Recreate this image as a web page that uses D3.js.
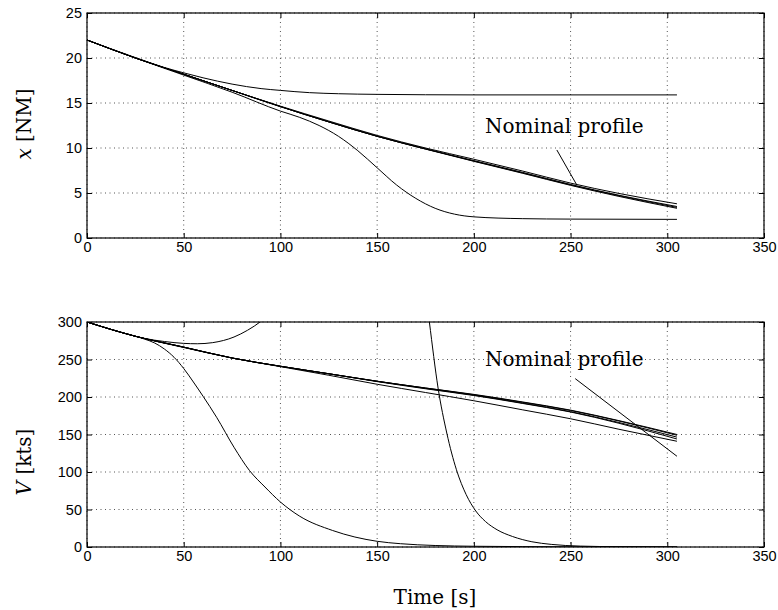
<!DOCTYPE html>
<html>
<head>
<meta charset="utf-8">
<script src="https://cdn.jsdelivr.net/npm/d3@7"></script>
<style>
  body { margin: 0; background: #fff; }
  svg { display: block; }
</style>
</head>
<body>
<div id="chart"></div>
<script>
// ---- data ----
const timeTicks = [0, 50, 100, 150, 200, 250, 300, 350];
const distTicks = [0, 5, 10, 15, 20, 25];
const speedTicks = [0, 50, 100, 150, 200, 250, 300];

// upper panel: distance to go x [NM]
const tBase = [0, 25, 50, 75, 100, 125, 150, 175, 200, 225, 250, 275, 305];
const xNominal = [22, 20.0, 18.2, 16.4, 14.65, 13.0, 11.4, 10.0, 8.75, 7.45, 6.1, 4.95, 3.8];
const xRunA = [22, 20.0, 18.2, 16.4, 14.6, 12.9, 11.3, 9.9, 8.6, 7.3, 5.95, 4.75, 3.5];
const xRunB = [22, 20.0, 18.2, 16.4, 14.6, 12.9, 11.3, 9.9, 8.55, 7.25, 5.9, 4.7, 3.4];
const xRunC = [22, 20.0, 18.2, 16.4, 14.6, 12.9, 11.3, 9.88, 8.52, 7.2, 5.85, 4.62, 3.3];

const tPlateau = [0, 25, 40, 50, 60, 75, 90, 100, 115, 130, 150, 200, 305];
const xPlateau = [22, 20.05, 18.95, 18.35, 17.8, 17.1, 16.6, 16.4, 16.15, 16.03, 15.96, 15.9, 15.9];

const tLow = [0, 25, 50, 75, 100, 110, 120, 130, 140, 150, 160, 170, 180, 190, 200, 225, 250, 305];
const xLow = [22, 20, 18.1, 16.2, 14.1, 13.4, 12.5, 11.3, 9.7, 7.8, 5.9, 4.4, 3.3, 2.65, 2.35, 2.15, 2.1, 2.07];

// lower panel: speed V [kts]
const vNominal = [300, 281, 266.5, 252, 241, 231, 221, 212, 203, 193, 182, 168, 149];
const vRunA = [300, 281, 266.5, 252, 241, 231, 221, 212, 203.5, 193.5, 182.5, 168.5, 150];
const vRunB = [300, 281, 266.5, 252, 241, 231, 221, 211.5, 202.5, 192, 180.5, 166, 146.5];
const vRunC = [300, 281, 266.5, 252, 241, 231, 220.5, 211, 202, 191.5, 180, 165, 144];
const vRunD = [300, 281, 266, 252, 240.5, 229, 217, 206, 195, 183, 171, 157, 141];

const tUp = [0, 10, 20, 30, 40, 50, 57, 65, 76, 83, 90, 95];
const vUp = [300, 292, 284.5, 278, 274, 271.5, 271, 272.5, 280, 289, 301, 312];

const tDrop = [0, 15, 25, 30, 35, 40, 45, 50, 55, 60, 67, 76, 84, 92, 100, 110, 127, 150, 162, 180, 200, 250, 305];
const vDrop = [300, 288, 281, 277, 272, 264, 253, 238, 220, 201, 173, 133, 102, 80, 60, 41, 22, 7.6, 4.4, 2, 1, 0.3, 0.1];

const tSteep = [174, 177, 181.5, 186, 191, 196, 201, 206, 212, 220, 230, 240, 255, 275, 305];
const vSteep = [362, 300, 212, 152, 103, 70, 48, 34, 23, 14, 7, 3.5, 1.2, 0.4, 0.1];

// annotation: label anchor and pointer ends, in data units
const topLabel = [205.8, 11.67];
const topPointer = [[242.9, 9.78], [253.2, 5.9]];
const botLabel = [205.8, 242];
const botPointer = [[252.4, 224.5], [305, 121]];

// ---- layout ----
const W = 778, H = 610;
const left = 87, right = 764;

const svg = d3.select("div#chart").append("svg")
  .attr("width", W).attr("height", H);

const xScale = d3.scaleLinear().domain([0, 350]).range([left, right]);

const zip = (ts, vs) => ts.map((t, i) => [t, vs[i]]);

function panel(id, top, bottom, domain, ticks, series, label, pointer, ylabel, ylabelY) {
  const yScale = d3.scaleLinear().domain(domain).range([bottom, top]);
  const g = svg.append("g");

  g.append("clipPath").attr("id", id)
    .append("rect")
    .attr("x", left).attr("y", top)
    .attr("width", right - left).attr("height", bottom - top);

  // dotted grid
  g.append("g").selectAll("line").data(timeTicks).enter().append("line")
    .attr("x1", d => xScale(d)).attr("x2", d => xScale(d))
    .attr("y1", top).attr("y2", bottom)
    .attr("stroke", "#555").attr("stroke-width", 1)
    .attr("stroke-dasharray", "1,3.5");
  g.append("g").selectAll("line").data(ticks).enter().append("line")
    .attr("x1", left).attr("x2", right)
    .attr("y1", d => yScale(d)).attr("y2", d => yScale(d))
    .attr("stroke", "#555").attr("stroke-width", 1)
    .attr("stroke-dasharray", "1,3.5");

  // curves
  const line = d3.line()
    .x(d => xScale(d[0]))
    .y(d => yScale(d[1]))
    .curve(d3.curveMonotoneX);

  g.append("g").attr("clip-path", `url(#${id})`)
    .selectAll("path").data(series).enter().append("path")
    .attr("d", d => line(d))
    .attr("fill", "none")
    .attr("stroke", "#000")
    .attr("stroke-width", 1);

  // axes, ticks inward on all four sides
  const axisB = g.append("g").attr("transform", `translate(0,${bottom})`)
    .call(d3.axisBottom(xScale).tickValues(timeTicks).tickSizeInner(-5).tickSizeOuter(0).tickPadding(3.5));
  const axisL = g.append("g").attr("transform", `translate(${left},0)`)
    .call(d3.axisLeft(yScale).tickValues(ticks).tickSizeInner(-5).tickSizeOuter(0).tickPadding(5));
  g.append("g").attr("transform", `translate(0,${top})`)
    .call(d3.axisTop(xScale).tickValues(timeTicks).tickSizeInner(-5).tickSizeOuter(0).tickFormat(() => ""));
  g.append("g").attr("transform", `translate(${right},0)`)
    .call(d3.axisRight(yScale).tickValues(ticks).tickSizeInner(-5).tickSizeOuter(0).tickFormat(() => ""));

  g.selectAll(".domain").remove();
  g.selectAll(".tick line").attr("stroke", "#000");
  [axisB, axisL].forEach(a => a.selectAll("text")
    .attr("fill", "#000")
    .style("font-family", "'Liberation Sans', Arial, sans-serif")
    .style("font-size", "14.5px"));

  g.append("rect")
    .attr("x", left).attr("y", top)
    .attr("width", right - left).attr("height", bottom - top)
    .attr("fill", "none").attr("stroke", "#000").attr("stroke-width", 1.2);

  // annotation
  g.append("line")
    .attr("x1", xScale(pointer[0][0])).attr("y1", yScale(pointer[0][1]))
    .attr("x2", xScale(pointer[1][0])).attr("y2", yScale(pointer[1][1]))
    .attr("stroke", "#000").attr("stroke-width", 1);
  g.append("text")
    .attr("x", xScale(label[0])).attr("y", yScale(label[1]))
    .style("font-family", "'DejaVu Serif', serif")
    .style("font-size", "20px")
    .text("Nominal profile");

  // y label
  const yl = g.append("text")
    .attr("transform", `translate(31,${ylabelY}) rotate(-90)`)
    .attr("text-anchor", "middle")
    .style("font-family", "'DejaVu Serif', serif")
    .style("font-size", "20px");
  yl.append("tspan").style("font-style", "italic").text(ylabel[0]);
  yl.append("tspan").text(ylabel[1]);
}

panel("clipTop", 13, 238, [0, 25], distTicks,
  [zip(tBase, xNominal), zip(tBase, xRunA), zip(tBase, xRunB), zip(tBase, xRunC),
   zip(tPlateau, xPlateau), zip(tLow, xLow)],
  topLabel, topPointer, ["x", " [NM]"], 124);

panel("clipBot", 322, 547, [0, 300], speedTicks,
  [zip(tBase, vNominal), zip(tBase, vRunA), zip(tBase, vRunB), zip(tBase, vRunC), zip(tBase, vRunD),
   zip(tUp, vUp), zip(tDrop, vDrop), zip(tSteep, vSteep)],
  botLabel, botPointer, ["V", " [kts]"], 462);

svg.append("text")
  .attr("x", 435).attr("y", 604)
  .attr("text-anchor", "middle")
  .style("font-family", "'DejaVu Serif', serif")
  .style("font-size", "20px")
  .text("Time [s]");
</script>
</body>
</html>
